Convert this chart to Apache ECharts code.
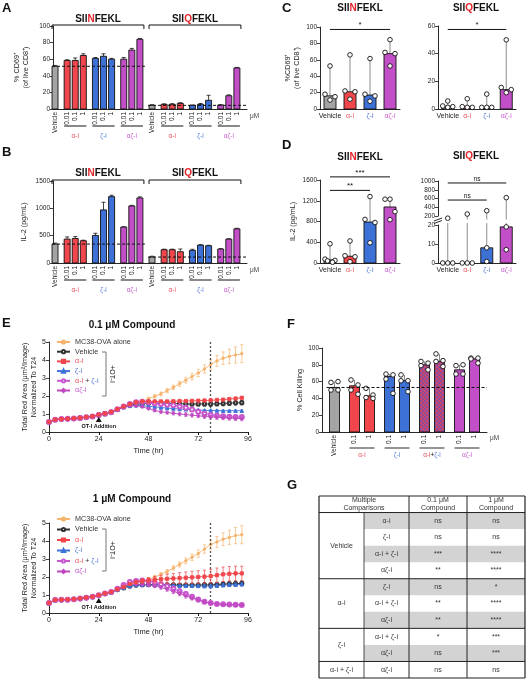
<!DOCTYPE html>
<html>
<head>
<meta charset="utf-8">
<script src="https://cdn.jsdelivr.net/npm/echarts@6.0.0/dist/echarts.min.js"></script>
<style>html,body{margin:0;padding:0;background:#fff;}#chart{width:527px;height:680px;}</style>
</head>
<body>
<div id="chart"></div>
<script>
// ================= DATA =================
const peptides = ['SIINFEKL', 'SIIQFEKL'];
// Panels A / B (per peptide half)
const abLabels = ['Vehicle','0.01','0.1','1','0.01','0.1','1','0.01','0.1','1'];
const abGroups = ['α-i','ζ-i','αζ-i'];
const aSIIN    = [51.5, 58.5, 58.5, 64.5, 61, 63.5, 60, 60, 71, 84];
const aSIINerr = [1, 0.8, 3, 2, 1, 3, 1, 2, 2, 1];
const aSIIQ    = [4.4, 5.6, 5.6, 6.8, 4.4, 5.6, 10.5, 4.8, 16, 49.5];
const aSIIQerr = [0.8, 0.6, 0.8, 0.8, 0.4, 1, 6, 0.4, 1, 0.6];
const bSIIN    = [346, 437, 449, 407, 504, 971, 1214, 656, 1044, 1190];
const bSIINerr = [18, 40, 35, 10, 40, 140, 25, 8, 10, 20];
const bSIIQ    = [109, 243, 243, 206, 231, 328, 316, 255, 437, 625];
const bSIIQerr = [15, 10, 10, 50, 20, 8, 8, 8, 8, 10];
// Panels C / D
const cdCats = ['Vehicle','α-i','ζ-i','αζ-i'];
const cSIINbar  = [16, 21, 17, 67.5];
const cSIINdots = [[52.5,18,15,11],[66,22,21,12],[61.5,18,16,9.5],[84.5,69,67.5,52.5]];
const cSIIQbar  = [2, 1.7, 1.2, 14];
const cSIIQdots = [[5.8,2.2,1.7,1.2],[7.4,1.7,1.2,1.2],[10.8,1.2,1.2,1.2],[50,15.6,14,11.8]];
const dSIINbar  = [60, 130, 790, 1080];
const dSIINdots = [[370,75,50,40,15],[425,140,120,25],[1280,840,780,390],[1230,1230,990,835]];
const dSIIQbar  = [0, 0, 8, 19];
const dSIIQdots = [[0,0,0,150],[0,0,0,245],[0.8,8,320],[7,19,620]];
const sigC = ['*', '*'];
const sigD = ['***', '**', 'ns', 'ns'];
// Panel E
const eTimes = [0,3,6,9,12,15,18,21,24,27,30,33,36,39,42,45,48,51,54,57,60,63,66,69,72,75,78,81,84,87,90,93];
const eNames = ['MC38-OVA alone','Vehicle','α-i','ζ-i','α-i + ζ-i','αζ-i'];
const eCutoffHr = 78;
const eOTIaddHr = 24;
const eTopMC38   = [0.55,0.68,0.72,0.73,0.75,0.78,0.82,0.86,0.95,1.02,1.10,1.25,1.38,1.48,1.58,1.68,1.85,1.98,2.12,2.30,2.48,2.68,2.88,3.08,3.28,3.50,3.75,3.95,4.10,4.20,4.28,4.35];
const eTopMC38E  = [0.02,0.02,0.02,0.02,0.02,0.02,0.03,0.03,0.03,0.03,0.04,0.05,0.05,0.06,0.06,0.07,0.08,0.09,0.10,0.11,0.12,0.14,0.16,0.18,0.20,0.23,0.26,0.30,0.35,0.40,0.45,0.50];
const eTopVeh    = [0.55,0.68,0.72,0.73,0.75,0.78,0.82,0.86,0.95,1.02,1.10,1.25,1.40,1.50,1.55,1.58,1.60,1.60,1.60,1.60,1.58,1.57,1.56,1.55,1.56,1.56,1.55,1.57,1.58,1.60,1.62,1.63];
const eTopVehE   = [0.02,0.02,0.02,0.02,0.02,0.02,0.02,0.02,0.02,0.02,0.03,0.03,0.04,0.05,0.05,0.06,0.06,0.07,0.07,0.08,0.08,0.09,0.10,0.10,0.11,0.12,0.12,0.12,0.12,0.12,0.12,0.12];
const eTopA      = [0.56,0.69,0.72,0.74,0.76,0.79,0.83,0.87,0.97,1.03,1.12,1.27,1.42,1.55,1.65,1.70,1.70,1.70,1.70,1.70,1.71,1.72,1.72,1.73,1.74,1.75,1.76,1.78,1.80,1.83,1.86,1.90];
const eTopAE     = [0.02,0.02,0.02,0.02,0.02,0.02,0.02,0.02,0.02,0.02,0.03,0.03,0.03,0.03,0.04,0.04,0.04,0.04,0.05,0.05,0.05,0.05,0.05,0.05,0.05,0.06,0.06,0.06,0.06,0.06,0.06,0.06];
const eTopZ      = [0.55,0.68,0.72,0.73,0.75,0.78,0.82,0.86,0.95,1.02,1.10,1.25,1.38,1.45,1.48,1.47,1.42,1.40,1.36,1.33,1.30,1.28,1.26,1.24,1.22,1.20,1.20,1.19,1.18,1.18,1.18,1.18];
const eTopZE     = [0.02,0.02,0.02,0.02,0.02,0.02,0.02,0.02,0.02,0.02,0.02,0.02,0.03,0.03,0.04,0.04,0.04,0.04,0.04,0.04,0.04,0.04,0.04,0.04,0.04,0.04,0.04,0.04,0.04,0.04,0.04,0.04];
const eTopAZc    = [0.55,0.68,0.72,0.73,0.75,0.78,0.82,0.86,0.95,1.02,1.10,1.26,1.42,1.55,1.65,1.68,1.65,1.60,1.55,1.52,1.48,1.42,1.35,1.25,1.12,1.02,0.95,0.90,0.88,0.85,0.84,0.83];
const eTopAZcE   = [0.02,0.02,0.02,0.02,0.02,0.02,0.02,0.02,0.02,0.02,0.02,0.02,0.03,0.04,0.04,0.05,0.05,0.06,0.06,0.07,0.08,0.08,0.09,0.10,0.10,0.10,0.10,0.10,0.10,0.10,0.10,0.10];
const eTopAZ     = [0.55,0.68,0.72,0.73,0.75,0.78,0.82,0.86,0.95,1.02,1.10,1.24,1.38,1.45,1.45,1.40,1.30,1.20,1.12,1.08,1.04,1.00,0.97,0.93,0.90,0.86,0.84,0.82,0.80,0.78,0.76,0.74];
const eTopAZE    = [0.02,0.02,0.02,0.02,0.02,0.02,0.02,0.02,0.02,0.02,0.02,0.02,0.03,0.04,0.05,0.06,0.06,0.07,0.08,0.08,0.09,0.10,0.10,0.10,0.10,0.10,0.10,0.12,0.12,0.12,0.12,0.12];
const eBotMC38   = [0.55,0.72,0.73,0.74,0.76,0.80,0.85,0.90,0.98,1.08,1.15,1.30,1.42,1.55,1.65,1.75,1.88,2.00,2.15,2.30,2.50,2.70,2.90,3.10,3.30,3.55,3.80,3.95,4.10,4.20,4.30,4.35];
const eBotMC38E  = [0.02,0.02,0.02,0.02,0.02,0.02,0.03,0.03,0.03,0.03,0.04,0.05,0.05,0.06,0.06,0.07,0.08,0.09,0.10,0.11,0.12,0.14,0.16,0.18,0.20,0.23,0.26,0.30,0.35,0.40,0.45,0.50];
const eBotVeh    = [0.55,0.72,0.73,0.74,0.76,0.80,0.85,0.90,0.98,1.08,1.15,1.30,1.40,1.50,1.55,1.57,1.58,1.58,1.58,1.57,1.56,1.55,1.55,1.55,1.55,1.56,1.56,1.58,1.60,1.62,1.63,1.65];
const eBotVehE   = [0.02,0.02,0.02,0.02,0.02,0.02,0.02,0.02,0.02,0.02,0.02,0.02,0.04,0.05,0.05,0.06,0.06,0.07,0.07,0.08,0.08,0.09,0.10,0.10,0.11,0.12,0.12,0.12,0.12,0.12,0.12,0.12];
const eBotA      = [0.56,0.73,0.74,0.75,0.77,0.81,0.86,0.91,0.99,1.09,1.17,1.32,1.45,1.62,1.72,1.78,1.82,1.85,1.88,1.90,1.92,1.94,1.96,1.98,2.00,2.02,2.05,2.10,2.15,2.18,2.20,2.20];
const eBotAE     = [0.02,0.02,0.02,0.02,0.02,0.02,0.02,0.02,0.02,0.02,0.02,0.02,0.05,0.07,0.09,0.12,0.15,0.18,0.22,0.25,0.28,0.30,0.32,0.34,0.35,0.36,0.38,0.40,0.40,0.40,0.40,0.40];
const eBotZ      = [0.55,0.72,0.73,0.74,0.76,0.80,0.85,0.90,0.98,1.08,1.15,1.30,1.40,1.50,1.55,1.56,1.56,1.55,1.55,1.54,1.53,1.52,1.52,1.52,1.51,1.50,1.50,1.52,1.55,1.57,1.58,1.60];
const eBotZE     = [0.02,0.02,0.02,0.02,0.02,0.02,0.02,0.02,0.02,0.02,0.02,0.02,0.04,0.05,0.06,0.06,0.07,0.07,0.08,0.08,0.08,0.09,0.09,0.10,0.10,0.10,0.10,0.10,0.10,0.10,0.10,0.10];
const eBotAZc    = [0.55,0.72,0.73,0.74,0.76,0.80,0.85,0.90,0.98,1.08,1.17,1.35,1.55,1.72,1.78,1.80,1.76,1.70,1.60,1.48,1.35,1.20,1.05,0.90,0.75,0.62,0.55,0.50,0.48,0.47,0.46,0.45];
const eBotAZcE   = [0.02,0.02,0.02,0.02,0.02,0.02,0.02,0.02,0.02,0.02,0.02,0.02,0.04,0.05,0.06,0.07,0.08,0.10,0.12,0.14,0.15,0.15,0.14,0.12,0.10,0.08,0.06,0.05,0.05,0.05,0.05,0.05];
const eBotAZ     = [0.55,0.72,0.73,0.74,0.76,0.80,0.85,0.90,0.98,1.08,1.16,1.32,1.50,1.60,1.60,1.58,1.55,1.50,1.42,1.32,1.20,1.08,0.95,0.83,0.72,0.62,0.55,0.50,0.47,0.45,0.44,0.44];
const eBotAZE    = [0.02,0.02,0.02,0.02,0.02,0.02,0.02,0.02,0.02,0.02,0.02,0.02,0.04,0.05,0.06,0.07,0.08,0.09,0.10,0.11,0.12,0.12,0.12,0.11,0.10,0.08,0.07,0.06,0.05,0.05,0.05,0.05];
// Panel F
const fLabels = ['Vehicle','0.1','1','0.1','1','0.1','1','0.1','1'];
const fGroups = ['α-i','ζ-i','α-i+ζ-i','αζ-i'];
const fVals = [53, 55, 43, 66, 61, 80, 84, 74, 87];
const fDots = [[59,60,50,50],[62,56,50,45],[52,44,41,40],[69,68,63,46],[68,61,61,48],[84,82,79,74],[93,85,84,78],[79,80,69,69],[88,88,87,82]];
// Panel G table
const gHeader = ['Multiple\nComparisons', '0.1 μM\nCompound', '1 μM\nCompound'];
const gGroups = ['Vehicle', 'α-i', 'ζ-i', 'α-i + ζ-i'];
const gGroupSpan = [4, 3, 2, 1];
const gComp = ['α-i','ζ-i','α-i + ζ-i','αζ-i','ζ-i','α-i + ζ-i','αζ-i','α-i + ζ-i','αζ-i','αζ-i'];
const g01 = ['ns','ns','***','**','ns','**','**','*','ns','ns'];
const g1  = ['ns','ns','****','****','*','****','****','***','***','ns'];

// ================= STYLE / LAYOUT =================
const FONT = '"Liberation Sans", Arial, Helvetica, sans-serif';
const C = {gray:'#a4a4a4', red:'#f1464c', blue:'#3d71d6', mag:'#c24ec8', orange:'#f5b46e', black:'#2a2a2a'};
const TC = {k:'#222', r:'#e9505a', b:'#4f79d8', m:'#c45bca'};
const groupKey = {'α-i':'r','ζ-i':'b','αζ-i':'m','Vehicle':'k'};
const richBase = {};
['k','r','b','m'].forEach(k => richBase[k] = {color: TC[k], fontSize: 7, fontFamily: FONT});
const plainNum = v => String(v);

const chart = echarts.init(document.getElementById('chart'), null, {renderer: 'canvas'});

function pad(labels, steps, lead, trail) {
  const cats = [], idx = []; let n = 0;
  for (let k = 0; k < lead; k++) cats.push('_' + (n++));
  labels.forEach((l, i) => {
    if (i > 0) for (let k = 1; k < steps[i]; k++) cats.push('_' + (n++));
    idx.push(cats.length); cats.push(l);
  });
  for (let k = 0; k < trail; k++) cats.push('_' + (n++));
  return {cats, idx};
}
const abAll = abLabels.concat(abLabels);
const AB = pad(abAll, [0,3,2,2,3,2,2,3,2,2, 3,3,2,2,3,2,2,3,2,2], 0, 2);
const abFill = [C.gray,C.red,C.red,C.red,C.blue,C.blue,C.blue,C.mag,C.mag,C.mag];
const FF = pad(fLabels, [0,4,3,4,3,4,3,4,3], 2, 2);

const pc = document.createElement('canvas'); pc.width = 4; pc.height = 4;
const pcx = pc.getContext('2d');
pcx.fillStyle = '#c9466c'; pcx.fillRect(0,0,4,4);
pcx.fillStyle = '#8f4c9c'; pcx.fillRect(0,0,2,2); pcx.fillRect(2,2,2,2);
const comboFill = {image: pc, repeat: 'repeat'};
const fFill = [C.gray, C.red, C.red, C.blue, C.blue, comboFill, comboFill, C.mag, C.mag];
const cdFill = [C.gray, C.red, C.blue, C.mag];

const grids = [
  {left:53, top:26, width:194, height:83},   // 0 A
  {left:53, top:181, width:194, height:82},  // 1 B
  {left:320, top:27, width:80, height:82},   // 2 C left
  {left:438, top:26, width:78, height:83},   // 3 C right
  {left:320, top:180, width:80, height:83},  // 4 D left
  {left:438, top:225, width:78, height:38},  // 5 D right lower
  {left:438, top:181, width:78, height:35},  // 6 D right upper
  {left:49, top:342, width:199, height:90},  // 7 E top
  {left:49, top:523, width:199, height:90},  // 8 E bottom
  {left:322, top:348, width:165, height:84}, // 9 F
  {left:319, top:496, width:206, height:182} // 10 G
].map(g => Object.assign({containLabel:false, outerBoundsMode:'none', show:false}, g));

const axLine = {show:true, lineStyle:{color:'#111', width:0.9}};
function yAx(gi, min, max, interval, name, nameGap, extra) {
  return Object.assign({type:'value', gridIndex:gi, min, max, interval,
    axisLine:axLine, axisTick:{show:true, length:3, lineStyle:{color:'#111', width:0.8}},
    axisLabel:{fontSize:6.5, color:'#222', fontFamily:FONT, margin:3, formatter:plainNum},
    splitLine:{show:false}, name:name||'', nameLocation:'middle', nameGap:nameGap||20, nameRotate:90,
    nameTextStyle:{fontSize:7.2, color:'#222', fontFamily:FONT, lineHeight:9}}, extra||{});
}
function xCat(gi, data, label, extra) {
  return Object.assign({type:'category', gridIndex:gi, data, boundaryGap:true,
    axisLine:axLine, axisTick:{show:false},
    axisLabel:Object.assign({interval:0, fontSize:6.5, color:'#222', fontFamily:FONT, margin:3}, label||{}),
    splitLine:{show:false}}, extra||{});
}
const rotLabel = {rotate:90, formatter: v => v[0] === '_' ? '' : v};
const cdLabel = {fontSize:7, margin:4, formatter: v => '{' + groupKey[v] + '|' + v + '}', rich: richBase};

function barR(w, fills) {
  return (p, api) => {
    const x = api.value(0), v = api.value(1);
    const a = api.coord([x, 0]), b = api.coord([x, v]);
    return {type:'rect', shape:{x:a[0]-w/2, y:Math.min(a[1],b[1]), width:w, height:Math.abs(a[1]-b[1])},
      style:{fill:fills[p.dataIndex % fills.length], stroke:'#111', lineWidth:0.9}};
  };
}
function errR(p, api) {
  const x = api.value(0), v = api.value(1), e = api.value(2);
  const a = api.coord([x, v]), b = api.coord([x, v + e]);
  return {type:'group', children:[
    {type:'line', shape:{x1:a[0], y1:a[1], x2:b[0], y2:b[1]}, style:{stroke:'#111', lineWidth:0.8}},
    {type:'line', shape:{x1:b[0]-2, y1:b[1], x2:b[0]+2, y2:b[1]}, style:{stroke:'#111', lineWidth:0.8}}]};
}
function rangeR(p, api) {
  const x = api.value(0);
  const a = api.coord([x, api.value(1)]), b = api.coord([x, api.value(2)]);
  return {type:'line', shape:{x1:a[0], y1:a[1], x2:b[0], y2:b[1]}, style:{stroke:'#8c8c8c', lineWidth:1}};
}
function dotR(offFn) {
  return (p, api) => {
    const x = api.value(0), v = api.value(1), k = api.value(2), g = api.value(3);
    const c = api.coord([x, v]);
    return {type:'circle', shape:{cx:c[0] + offFn(g, k), cy:c[1], r:2.3}, style:{fill:'#fff', stroke:'#111', lineWidth:0.9}};
  };
}
function custom(gi, data, renderItem, z) {
  return {type:'custom', xAxisIndex:gi, yAxisIndex:gi, data, renderItem, z:z||2, silent:true, clip:false, animation:false, encode:{x:0, y:1}};
}
const series = [];
function abSeries(gi, v1, e1, v2, e2) {
  const vals = v1.concat(v2), errs = e1.concat(e2);
  series.push(custom(gi, AB.idx.map((p, i) => [p, vals[i], errs[i]]), errR, 2));
  series.push(custom(gi, AB.idx.map((p, i) => [p, vals[i]]), barR(6, abFill), 3));
}
abSeries(0, aSIIN, aSIINerr, aSIIQ, aSIIQerr);
abSeries(1, bSIIN, bSIINerr, bSIIQ, bSIIQerr);
const off4 = [0,-5,5,0], off5 = [0,-5,5,-2.5,2.5];
function cdSeries(gi, bars, dots, offFn, filt, rangeClamp) {
  const rng = [], pts = [];
  dots.forEach((arr, g) => {
    const mx = Math.max(...arr), mn = Math.min(...arr, bars[g]);
    const r = rangeClamp ? rangeClamp(mn, mx) : [mn, mx];
    if (r) rng.push([g, r[0], r[1]]);
    arr.forEach((v, k) => { if (!filt || filt(v)) pts.push([g, v, k, g]); });
  });
  series.push(custom(gi, rng, rangeR, 1));
  if (bars) series.push(custom(gi, bars.map((v, i) => [i, v]), barR(12, cdFill), 2));
  series.push(custom(gi, pts, dotR(offFn), 3));
}
const cdOff = (dots) => (g, k) => { const n = dots[g].length; return (n === 5 ? off5 : off4)[k] || 0; };
cdSeries(2, cSIINbar, cSIINdots, cdOff(cSIINdots));
cdSeries(3, cSIIQbar, cSIIQdots, cdOff(cSIIQdots));
cdSeries(4, dSIINbar, dSIINdots, cdOff(dSIINdots));
const dRightOff = (g, k) => ([[-5,0,5,0],[-5,0,5,0],[0,0,0],[0,0,0]][g][k] || 0);
cdSeries(5, dSIIQbar, dSIIQdots, dRightOff, v => v <= 20, (mn, mx) => [mn, Math.min(mx, 21)]);
(function(){
  const rng = [], pts = [];
  dSIIQdots.forEach((arr, g) => {
    const mx = Math.max(...arr);
    if (mx > 20) rng.push([g, 120, mx]);
    arr.forEach((v, k) => { if (v > 20) pts.push([g, v, k, g]); });
  });
  series.push(custom(6, rng, rangeR, 1));
  series.push(custom(6, pts, dotR(dRightOff), 3));
})();
(function(){
  const rng = [], pts = [];
  fDots.forEach((arr, g) => {
    const p = FF.idx[g];
    rng.push([p, fVals[g], Math.max(...arr)]);
    arr.forEach((v, k) => pts.push([p, v, k, g]));
  });
  series.push(custom(9, rng, rangeR, 1));
  series.push(custom(9, FF.idx.map((p, i) => [p, fVals[i]]), barR(10, fFill), 2));
  series.push(custom(9, pts, dotR((g, k) => [-3.5, 3.5, -3.5, 3.5][k] || 0), 3));
})();
const eCol = [C.orange, '#333333', C.red, C.blue, '#c857d0', '#c04bc0'];
const eSym = ['circle', 'emptyCircle', 'rect', 'triangle', 'emptyCircle', 'diamond'];
const eSymSize = [2.5, 3.2, 3.2, 3.5, 4, 3.5];
const eRank = [0, 1, 5, 2, 3, 4];
function eErrR(color) {
  return (p, api) => {
    const t = api.value(0), v = api.value(1), e = api.value(2);
    const a = api.coord([t, v - e]), b = api.coord([t, v + e]);
    return {type:'group', children:[
      {type:'line', shape:{x1:a[0], y1:a[1], x2:b[0], y2:b[1]}, style:{stroke:color, lineWidth:0.7}},
      {type:'line', shape:{x1:a[0]-1.6, y1:a[1], x2:a[0]+1.6, y2:a[1]}, style:{stroke:color, lineWidth:0.7}},
      {type:'line', shape:{x1:b[0]-1.6, y1:b[1], x2:b[0]+1.6, y2:b[1]}, style:{stroke:color, lineWidth:0.7}}]};
  };
}
function eSeries(gi, vals, errs) {
  eNames.forEach((n, k) => {
    const z = 3 + 2 * eRank[k];
    series.push(custom(gi, eTimes.map((t, i) => [t, vals[k][i], errs[k][i]]), eErrR(eCol[k]), z));
    const s = {type:'line', name:n, xAxisIndex:gi, yAxisIndex:gi, z:z + 1, animation:false,
      data: eTimes.map((t, i) => [t, vals[k][i]]), symbol:eSym[k], symbolSize:eSymSize[k], showSymbol:true,
      lineStyle:{width:0.9, color:eCol[k]}, itemStyle:{color:eCol[k], borderColor:eCol[k], borderWidth:0.9}};
    if (k === 0) s.markLine = {silent:true, symbol:['none','none'], label:{show:false}, animation:false,
      lineStyle:{type:[2,2], color:'#555', width:1.3}, data:[{xAxis:eCutoffHr}]};
    series.push(s);
  });
}
eSeries(7, [eTopMC38, eTopVeh, eTopA, eTopZ, eTopAZc, eTopAZ], [eTopMC38E, eTopVehE, eTopAE, eTopZE, eTopAZcE, eTopAZE]);
eSeries(8, [eBotMC38, eBotVeh, eBotA, eBotZ, eBotAZc, eBotAZ], [eBotMC38E, eBotVehE, eBotAE, eBotZE, eBotAZcE, eBotAZE]);
const colEdges = [0, 45, 90, 148, 206];
const cells = [];
cells.push({x0:colEdges[0], x1:colEdges[2], y0:0, y1:1, text:gHeader[0]});
cells.push({x0:colEdges[2], x1:colEdges[3], y0:0, y1:1, text:gHeader[1]});
cells.push({x0:colEdges[3], x1:colEdges[4], y0:0, y1:1, text:gHeader[2]});
let rr = 1;
gGroups.forEach((g, i) => { cells.push({x0:colEdges[0], x1:colEdges[1], y0:rr, y1:rr + gGroupSpan[i], text:g}); rr += gGroupSpan[i]; });
gComp.forEach((c, i) => {
  const shade = i % 2 === 0 ? '#d3d3d3' : null;
  cells.push({x0:colEdges[1], x1:colEdges[2], y0:1+i, y1:2+i, text:c, fill:shade});
  cells.push({x0:colEdges[2], x1:colEdges[3], y0:1+i, y1:2+i, text:g01[i], fill:shade});
  cells.push({x0:colEdges[3], x1:colEdges[4], y0:1+i, y1:2+i, text:g1[i], fill:shade});
});
const tLines = [[0,0,206,0,1.2],[0,11,206,11,1.2],[0,0,0,11,1.2],[206,0,206,11,1.2],[0,1,206,1,1],
  [0,5,206,5,1],[0,8,206,8,1],[0,10,206,10,1],[90,0,90,11,1],[148,0,148,11,1],[45,1,45,11,0.8]];
series.push(custom(10, cells.map(c => [c.x0, c.y0]), (p, api) => {
  const c = cells[p.dataIndex];
  const a = api.coord([c.x0, c.y0]), b = api.coord([c.x1, c.y1]);
  const kids = [];
  if (c.fill) kids.push({type:'rect', shape:{x:a[0], y:a[1], width:b[0]-a[0], height:b[1]-a[1]}, style:{fill:c.fill}});
  kids.push({type:'text', style:{text:c.text, x:(a[0]+b[0])/2, y:(a[1]+b[1])/2, align:'center', verticalAlign:'middle',
    textAlign:'center', textVerticalAlign:'middle', fill:'#333', font:'7px ' + FONT, lineHeight:8.5}});
  return {type:'group', children:kids};
}, 2));
series.push(custom(10, tLines.map(l => [l[0], l[1]]), (p, api) => {
  const l = tLines[p.dataIndex];
  const a = api.coord([l[0], l[1]]), b = api.coord([l[2], l[3]]);
  return {type:'line', shape:{x1:a[0], y1:a[1], x2:b[0], y2:b[1]}, style:{stroke:'#222', lineWidth:l[4]}};
}, 3));

const timeAxis = gi => ({type:'value', gridIndex:gi, min:0, max:96, interval:24, axisLine:axLine,
  axisTick:{show:true, length:3, lineStyle:{color:'#111'}},
  axisLabel:{fontSize:7, color:'#222', fontFamily:FONT, margin:4, formatter:plainNum}, splitLine:{show:false},
  name:'Time (hr)', nameLocation:'middle', nameGap:15, nameTextStyle:{fontSize:7.5, color:'#222', fontFamily:FONT}});
const xAxes = [
  xCat(0, AB.cats, rotLabel),
  xCat(1, AB.cats, rotLabel),
  xCat(2, cdCats, cdLabel),
  xCat(3, cdCats, cdLabel),
  xCat(4, cdCats, cdLabel),
  xCat(5, cdCats, cdLabel),
  xCat(6, cdCats, {show:false}, {axisLine:{show:false}}),
  timeAxis(7),
  timeAxis(8),
  xCat(9, FF.cats, rotLabel),
  {type:'value', gridIndex:10, min:0, max:206, show:false}
];
const eYName = 'Total Red Area (μm²/Image)\nNormalized To T24';
const eYLabel = {axisLabel:{fontSize:7, color:'#222', fontFamily:FONT, margin:3, formatter:plainNum}};
const yAxes = [
  yAx(0, 0, 100, 20, '% CD69⁺\n(of live CD8⁺)', 22),
  yAx(1, 0, 1500, 500, 'IL-2 (pg/mL)', 24),
  yAx(2, 0, 100, 20, '%CD69⁺\n(of live CD8⁺)', 18),
  yAx(3, 0, 60, 20, ''),
  yAx(4, 0, 1600, 400, 'IL-2 (pg/mL)', 22),
  yAx(5, 0, 20, 10, ''),
  yAx(6, 200, 1000, 200, ''),
  yAx(7, 0, 5, 1, eYName, 10, eYLabel),
  yAx(8, 0, 5, 1, eYName, 10, eYLabel),
  yAx(9, 0, 100, 20, '% Cell Killing', 15),
  {type:'value', gridIndex:10, min:0, max:11, inverse:true, show:false}
];

const legendText = {'MC38-OVA alone':'{k|MC38-OVA alone}', 'Vehicle':'{k|Vehicle}', 'α-i':'{r|α-i}', 'ζ-i':'{b|ζ-i}',
  'α-i + ζ-i':'{r|α-i} {k|+} {b|ζ-i}', 'αζ-i':'{m|αζ-i}'};
const legRich = {};
['k','r','b','m'].forEach(k => legRich[k] = {color: k === 'k' ? '#333' : TC[k], fontSize:7.2, fontFamily:FONT});
function legend(top, gap) {
  return {show:true, top, left:56, orient:'vertical', padding:0, itemWidth:13, itemHeight:4, itemGap:gap, selectedMode:false,
    data:eNames, formatter: n => legendText[n], textStyle:{fontSize:7.2, lineHeight:8, fontFamily:FONT, rich:legRich}};
}

chart.setOption({
  animation:false,
  backgroundColor:'#fff',
  textStyle:{fontFamily:FONT},
  grid:grids, xAxis:xAxes, yAxis:yAxes,
  legend:[legend(338, 1.7), legend(515, 2.5)],
  series
});

// ================= ANNOTATIONS =================
const G = [];
function P(gi, x, y) { return chart.convertToPixel({gridIndex:gi}, [x, y]); }
function T(x, y, text, o) {
  o = o || {};
  const size = o.size || 7;
  const st = {text, fill:o.color || '#111', font:(o.bold ? 'bold ' : '') + size + 'px ' + FONT,
    fontSize:size, fontWeight:o.bold ? 'bold' : 'normal', fontFamily:FONT,
    align:o.align || 'left', verticalAlign:o.va || 'top', textAlign:o.align || 'left', textVerticalAlign:o.va || 'top'};
  if (o.rich) st.rich = o.rich;
  G.push({type:'text', x, y, rotation:o.rot || 0, silent:true, z:100, style:st});
}
function L(x1, y1, x2, y2, o) {
  o = o || {};
  G.push({type:'line', silent:true, z:99, shape:{x1, y1, x2, y2}, style:{stroke:o.c || '#111', lineWidth:o.w || 1, lineDash:o.dash || null}});
}
function richSet(size, bold) {
  const r = {};
  [['k','#111'],['r',TC.r],['b',TC.b],['m',TC.m],['R','#e3242b']].forEach(([k, c]) => {
    r[k] = {fill:c, color:c, fontSize:size, fontWeight:bold ? 'bold' : 'normal', fontFamily:FONT, font:(bold ? 'bold ' : '') + size + 'px ' + FONT};
  });
  return r;
}
const titleRich = richSet(10, true);
function pepText(s) { return '{k|' + s.slice(0,3) + '}{R|' + s[3] + '}{k|' + s.slice(4) + '}'; }
function pepTitle(x, y, s) { T(x, y, pepText(s), {align:'center', va:'middle', rich:titleRich, bold:true, size:10}); }

[['A',2,2],['B',2,146],['C',282,2],['D',282,139],['E',2,317],['F',287,318],['G',287,479]].forEach(([t, x, y]) =>
  T(x, y, t, {bold:true, size:13}));

function abAnnot(gi, v1, v2, titleY) {
  const g = grids[gi], axisY = g.top + g.height, right = g.left + g.width;
  const ax = i => P(gi, AB.idx[i], 0)[0];
  const y1 = P(gi, AB.idx[0], v1[0])[1];
  L(ax(0) - 3, y1, ax(9) + 5, y1, {dash:[3,2], w:1});
  const y2 = P(gi, AB.idx[10], v2[0])[1];
  L(ax(10) - 4, y2, right, y2, {dash:[3,2], w:1});
  [[0, 9, peptides[0]], [10, 19, peptides[1]]].forEach(([s, e, pep]) => {
    const x1 = ax(s) - 3, x2 = ax(e) + 4, by = g.top - 1;
    L(x1, by, x2, by); L(x1, by, x1, by + 4); L(x2, by, x2, by + 4);
    pepTitle((x1 + x2) / 2, titleY, pep);
  });
  [[1,3,0],[4,6,1],[7,9,2],[11,13,0],[14,16,1],[17,19,2]].forEach(([s, e, k]) => {
    const x1 = ax(s) - 3, x2 = ax(e) + 3;
    L(x1, axisY + 17, x2, axisY + 17, {c:'#555', w:1.4});
    T((x1 + x2) / 2, axisY + 27, abGroups[k], {align:'center', va:'middle', size:6.5, color:TC[groupKey[abGroups[k]]]});
  });
  T(right + 3, axisY + 7, 'μM', {va:'middle', size:6.5, color:'#444'});
}
abAnnot(0, aSIIN, aSIIQ, 19);
abAnnot(1, bSIIN, bSIIQ, 173);

pepTitle(360, 8, peptides[0]); pepTitle(476, 8, peptides[1]);
pepTitle(360, 157, peptides[0]); pepTitle(476, 156, peptides[1]);
function sig(gi, i0, i1, val, label, size) {
  const a = P(gi, i0, val), b = P(gi, i1, val);
  L(a[0], a[1], b[0], b[1], {w:1});
  T((a[0] + b[0]) / 2, a[1] - 0.5, label, {align:'center', va:'bottom', size:size || 8});
}
sig(2, 0, 3, 97, sigC[0]);
sig(3, 0, 3, 57.5, sigC[1]);
sig(4, 0, 3, 1660, sigD[0]);
sig(4, 0, 2, 1400, sigD[1]);
sig(6, 0, 3, 955, sigD[2], 6.5);
sig(6, 0, 2, 565, sigD[3], 6.5);
(function(){
  const x = grids[5].left, yb = grids[6].top + grids[6].height, yt = grids[5].top;
  const m = (yb + yt) / 2;
  L(x - 4, m + 0.5, x + 4, m - 2.5, {w:0.9});
  L(x - 4, m + 3, x + 4, m, {w:0.9});
})();

T(132, 325, '0.1 μM Compound', {align:'center', va:'middle', bold:true, size:10});
T(132, 499, '1 μM Compound', {align:'center', va:'middle', bold:true, size:10});
function eAnnot(gi, bTop, bBot) {
  const g = grids[gi], axisY = g.top + g.height;
  const x = P(gi, eOTIaddHr, 0)[0];
  G.push({type:'polygon', silent:true, z:100, shape:{points:[[x, axisY - 15], [x - 3, axisY - 10], [x + 3, axisY - 10]]}, style:{fill:'#111'}});
  T(x, axisY - 6, 'OT-I Addition', {align:'center', va:'middle', bold:true, size:5.5});
  L(106, bTop, 106, bBot, {c:'#777', w:1}); L(102, bTop, 106, bTop, {c:'#777'}); L(102, bBot, 106, bBot, {c:'#777'});
  T(112, (bTop + bBot) / 2, '+OT-I', {align:'center', va:'middle', size:7, rot:-Math.PI / 2, color:'#222'});
}
eAnnot(7, 352, 396);
eAnnot(8, 529, 571);

(function(){
  const gi = 9, g = grids[gi], axisY = g.top + g.height, right = g.left + g.width;
  const ax = i => P(gi, FF.idx[i], 0)[0];
  const y = P(gi, FF.idx[0], fVals[0])[1];
  L(ax(0) - 8, y, right, y, {dash:[3,2], w:1});
  const fRich = richSet(6.5, false);
  const fText = {'α-i':'{r|α-i}', 'ζ-i':'{b|ζ-i}', 'α-i+ζ-i':'{r|α-i}{k|+}{b|ζ-i}', 'αζ-i':'{m|αζ-i}'};
  [[1,2],[3,4],[5,6],[7,8]].forEach(([s, e], k) => {
    const x1 = ax(s) - 5, x2 = ax(e) + 5;
    L(x1, axisY + 16, x2, axisY + 16, {c:'#666', w:1.4});
    T((x1 + x2) / 2, axisY + 23, fText[fGroups[k]], {align:'center', va:'middle', size:6.5, rich:fRich});
  });
  T(right + 3, axisY + 6, 'μM', {va:'middle', size:6.5, color:'#444'});
})();

chart.setOption({graphic:{elements:G}});
</script>
</body>
</html>
